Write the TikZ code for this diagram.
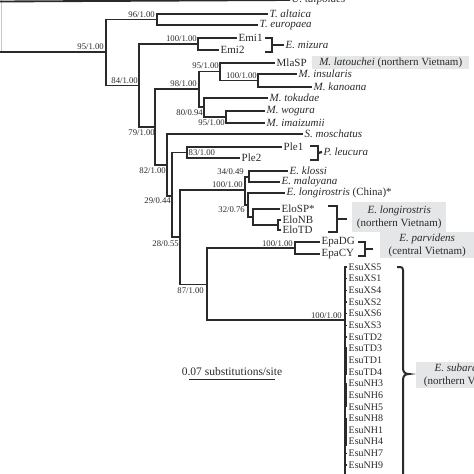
\documentclass[tikz,border=0pt]{standalone}
\usepackage{fontspec}
\setmainfont{Liberation Serif}
\definecolor{ink}{HTML}{2A2A2A}
\definecolor{boxg}{HTML}{E4E6E8}
\tikzset{
 br/.style={draw=ink, line width=1.85pt, line join=miter},
 tax/.style={anchor=west, inner sep=1.5pt, font=\fontsize{11}{12.5}\selectfont, text=ink},
 esu/.style={anchor=west, inner sep=1.5pt, font=\fontsize{10}{11}\selectfont, text=ink},
 sup/.style={anchor=east, inner sep=0pt, font=\fontsize{8.7}{10}\selectfont, text=ink},
 brk/.style={draw=ink, line width=2.2pt},
 gbox/.style={fill=boxg, draw=none, inner sep=0pt},
 boxt/.style={font=\fontsize{11}{12.5}\selectfont, text=ink, align=center, inner sep=0pt},
}
\begin{document}
\begin{tikzpicture}[x=1pt,y=-1pt]
\useasboundingbox (0,0) rectangle (474,474);
% outgroup at the top
\draw[gray!45, line width=0.8pt] (1.5,0) -- (1.5,52);
\coordinate (top0) at (0,1.5);
\node[tax] (Utal) at (290,0) {\textit{U. talpoides}};
\draw[br] (top0) -- (Utal.west);
\coordinate (L0) at (0,52);
% internal nodes
\coordinate (n95a) at (106,52);
\coordinate (n96) at (157,19.5);
\coordinate (n84) at (139,85.5);
\coordinate (n100e) at (198,44);
\coordinate (n79) at (155,127);
\coordinate (n98) at (199,89);
\coordinate (n95m) at (220,71.5);
\coordinate (n100m) at (258,80.5);
\coordinate (n80) at (204,107);
\coordinate (n95w) at (226,117);
\coordinate (n82) at (167,165);
\coordinate (n29) at (172,196);
\coordinate (n83) at (187,152.5);
\coordinate (n28) at (180,237);
\coordinate (nEu) at (245,190);
\coordinate (n34) at (249,177);
\coordinate (nB) at (248,205);
\coordinate (n32) at (253,217);
\coordinate (nNT) at (278,225);
\coordinate (n87) at (207,284.5);
\coordinate (n100p) at (295,248);
\coordinate (nSu) at (345,320);
% leaves
\node[tax] (Talt) at (268,14) {\textit{T. altaica}};
\node[tax] (Teur) at (258,25) {\textit{T. europaea}};
\node[tax] (Emi1) at (237,38) {Emi1};
\node[tax] (Emi2) at (219,50) {Emi2};
\node[tax] (MlaSP) at (275,63) {MlaSP};
\node[tax] (Mins) at (297,74) {\textit{M. insularis}};
\node[tax] (Mkan) at (312,87) {\textit{M. kanoana}};
\node[tax] (Mtok) at (268,98) {\textit{M. tokudae}};
\node[tax] (Mwog) at (265,111) {\textit{M. wogura}};
\node[tax] (Mima) at (265,123) {\textit{M. imaizumii}};
\node[tax] (Smos) at (303,134) {\textit{S. moschatus}};
\node[tax] (Ple1) at (282,147) {Ple1};
\node[tax] (Ple2) at (240,158) {Ple2};
\node[tax] (Eklo) at (288,171) {\textit{E. klossi}};
\node[tax] (Emal) at (280,182) {\textit{E. malayana}};
\node[tax] (Elch) at (285,193) {\textit{E. longirostris} (China)*};
\node[tax] (EloSP) at (280,209) {EloSP*};
\node[tax] (EloNB) at (281,220) {EloNB};
\node[tax] (EloTD) at (281,230) {EloTD};
\node[tax] (EpaDG) at (320,242) {EpaDG};
\node[tax] (EpaCY) at (320,254) {EpaCY};
% branches
\draw[br] (L0) -- (n95a);
\draw[br] (n95a) |- (n96);
\draw[br] (n95a) |- (n84);
\draw[br] (n96) |- (Talt.west);
\draw[br] (n96) |- (Teur.west);
\draw[br] (n84) |- (n100e);
\draw[br] (n84) |- (n79);
\draw[br] (n100e) |- (Emi1.west);
\draw[br] (n100e) |- (Emi2.west);
\draw[br] (n79) |- (n98);
\draw[br] (n79) |- (n82);
\draw[br] (n98) |- (n95m);
\draw[br] (n98) |- (n80);
\draw[br] (n95m) |- (MlaSP.west);
\draw[br] (n95m) |- (n100m);
\draw[br] (n100m) |- (Mins.west);
\draw[br] (n100m) |- (Mkan.west);
\draw[br] (n80) |- (Mtok.west);
\draw[br] (n80) |- (n95w);
\draw[br] (n95w) |- (Mwog.west);
\draw[br] (n95w) |- (Mima.west);
\draw[br] (n82) |- (Smos.west);
\draw[br] (n82) |- (n29);
\draw[br] (n29) |- (n83);
\draw[br] (n29) |- (n28);
\draw[br] (n83) |- (Ple1.west);
\draw[br] (n83) |- (Ple2.west);
\draw[br] (n28) |- (nEu);
\draw[br] (n28) |- (n87);
\draw[br] (nEu) |- (n34);
\draw[br] (nEu) |- (nB);
\draw[br] (n34) |- (Eklo.west);
\draw[br] (n34) |- (Emal.west);
\draw[br] (nB) |- (Elch.west);
\draw[br] (nB) |- (n32);
\draw[br] (n32) |- (EloSP.west);
\draw[br] (n32) |- (nNT);
\draw[br] (nNT) |- (EloNB.west);
\draw[br] (nNT) |- (EloTD.west);
\draw[br] (n87) |- (n100p);
\draw[br] (n87) |- (nSu);
\draw[br] (n100p) |- (EpaDG.west);
\draw[br] (n100p) |- (EpaCY.west);
% E. subaraneus clade
\coordinate (suEnd) at (345,480);
\draw[br, line width=1.3pt] (nSu) -- (suEnd);
\foreach \n [count=\i from 0] in {XS5,XS1,XS4,XS2,XS6,XS3,TD2,TD3,TD1,TD4,NH3,NH6,NH5,NH8,NH1,NH4,NH7,NH9} {
  \node[esu] (Esu\n) at (347,267+11.65*\i) {Esu\n};
  \draw[br, line width=1.3pt] (nSu) |- (Esu\n.west);
}
\draw[br, line width=2.6pt] (345.5,347) -- (345.5,375);
\draw[br, line width=2.6pt] (345.5,384) -- (345.5,406);
\draw[br, line width=2.6pt] (345.5,418) -- (345.5,446);
% support values
\node[sup] (s95a) at (104,47) {95/1.00};
\node[sup] (s96) at (155,15) {96/1.00};
\node[sup] (s84) at (138,81) {84/1.00};
\node[sup] (s100e) at (197,38.5) {100/1.00};
\node[sup] (s79) at (155,133) {79/1.00};
\node[sup] (s98) at (197,84) {98/1.00};
\node[sup] (s95m) at (219,66) {95/1.00};
\node[sup] (s100m) at (257,75.5) {100/1.00};
\node[sup] (s80) at (203,113) {80/0.94};
\node[sup] (s95w) at (225,123) {95/1.00};
\node[sup] (s82) at (166,171) {82/1.00};
\node[sup, anchor=west] (s83) at (188.5,152.5) {83/1.00};
\node[sup] (s29) at (171,201) {29/0.44};
\node[sup] (s100eu) at (243,185) {100/1.00};
\node[sup] (s34) at (244,172) {34/0.49};
\node[sup] (s32) at (245,210) {32/0.76};
\node[sup] (s28) at (179,244) {28/0.55};
\node[sup] (s100p) at (293,244) {100/1.00};
\node[sup] (s87) at (204,291) {87/1.00};
\node[sup] (s100s) at (342,316) {100/1.00};
% brackets and group labels
\draw[brk] (265,38) -- (272,38) -- (272,52) -- (265,52);
\coordinate (mzA) at (272,45);
\node[tax] (Emiz) at (284,45) {\textit{E. mizura}};
\draw[brk] (mzA) -- (Emiz.west);
\node[gbox, minimum width=157pt, minimum height=13pt, anchor=north west] (bxMla) at (312,56) {};
\node[boxt] (tMla) at (bxMla.center) {\textit{M. latouchei} (northern Vietnam)};
\draw[brk] (310,146) -- (318,146) -- (318,160) -- (310,160);
\coordinate (plA) at (318,153);
\node[tax] (Pleu) at (322,152) {\textit{P. leucura}};
\draw[brk] (plA) -- (Pleu.west);
\draw[brk] (328,206) -- (337,206) -- (337,232) -- (328,232);
\coordinate (elA) at (337,219);
\node[gbox, minimum width=94pt, minimum height=30pt, anchor=north west] (bxElo) at (352,202) {};
\node[boxt] (tElo) at (bxElo.center) {\textit{E. longirostris}\\(northern Vietnam)};
\coordinate (elB) at (347,219);
\draw[brk] (elA) -- (elB);
\draw[brk] (358,242) -- (365,242) -- (365,256) -- (358,256);
\coordinate (epA) at (365,249);
\node[gbox, minimum width=94pt, minimum height=26pt, anchor=north west] (bxEpa) at (380,232) {};
\node[boxt] (tEpa) at (bxEpa.center) {\textit{E. parvidens}\\(central Vietnam)};
\coordinate (epB) at (373,249);
\draw[brk] (epA) -- (epB);
% E. subaraneus brace
\draw[brk, line width=2pt] (397,267) -- (400,267) .. controls (402,267) and (403,268) .. (403,270) -- (403,368)
  .. controls (403,372) and (405,374) .. (409,374) .. controls (405,374) and (403,376) .. (403,380) -- (403,480);
\node[gbox, minimum width=100pt, minimum height=26pt, anchor=north west] (bxEsu) at (416,362) {};
\node[boxt] (tEsu) at (bxEsu.center) {\textit{E. subaraneus}\\(northern Vietnam)};
% scale bar
\node[font=\fontsize{11.5}{13}\selectfont, text=ink, inner sep=0pt] (scl) at (232,372) {0.07 substitutions/site};
\coordinate (sbA) at (189,379.5);
\coordinate (sbB) at (275,379.5);
\draw[ink, line width=1.5pt] (sbA) -- (sbB);
\end{tikzpicture}
\end{document}
